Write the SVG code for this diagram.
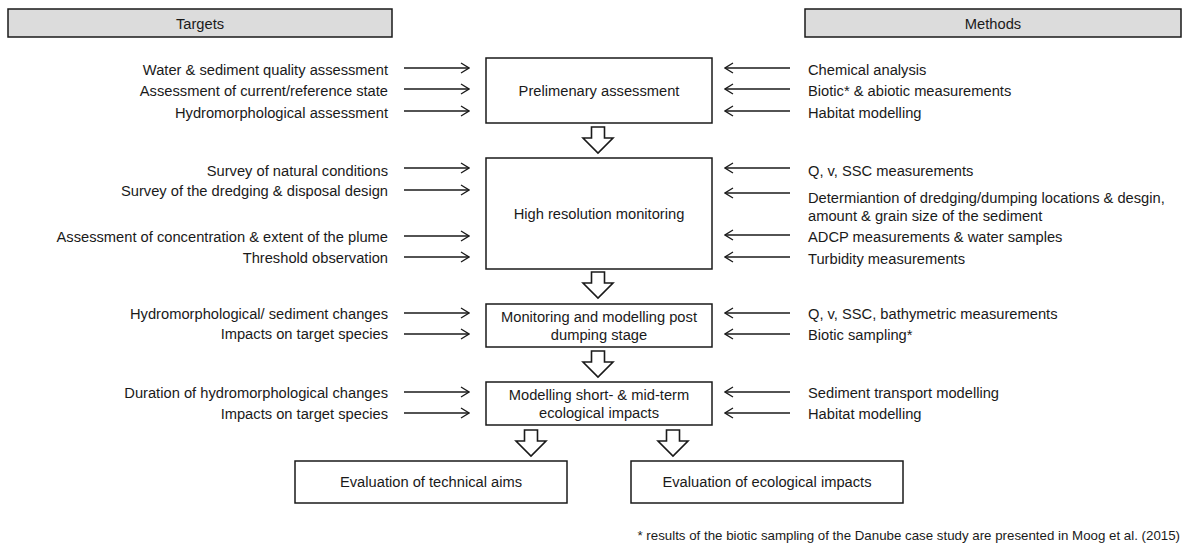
<svg xmlns="http://www.w3.org/2000/svg" width="1191" height="544" viewBox="0 0 1191 544">
<style>
text{font-family:"Liberation Sans",Arial,sans-serif;font-size:14.7px;fill:#1a1a1a}
.l{text-anchor:end}
.c{text-anchor:middle}
.box{fill:#fff;stroke:#1a1a1a;stroke-width:1.5}
.hdr{fill:#dcdcdc;stroke:#1a1a1a;stroke-width:1.5}
.ar{stroke:#1a1a1a;stroke-width:1.3;fill:none}
.big{fill:#fff;stroke:#1a1a1a;stroke-width:1.6;stroke-linejoin:miter}
.fn{font-size:13.3px}
</style>
<defs>
<marker id="h" viewBox="0 0 10 12" refX="9" refY="6" markerWidth="10" markerHeight="12" markerUnits="userSpaceOnUse" orient="auto">
<path d="M1,1 L9,6 L1,11" fill="none" stroke="#1a1a1a" stroke-width="1.3"/>
</marker>
<polygon id="da" class="big" points="-6.5,0 6.5,0 6.5,11 15,11 0,26 -15,11 -6.5,11 -6.5,0"/>
</defs>
<g id="hdr-targets"><rect class="hdr" x="8" y="9" width="384" height="28"/><text class="c" x="200" y="29">Targets</text></g>
<g id="hdr-methods"><rect class="hdr" x="805" y="9" width="376" height="28"/><text class="c" x="993" y="29">Methods</text></g>
<g id="n1"><rect class="box" x="486" y="58" width="226" height="65"/><text class="c" x="599" y="96">Prelimenary assessment</text></g>
<g id="n2"><rect class="box" x="486" y="158" width="226" height="111"/><text class="c" x="599" y="219">High resolution monitoring</text></g>
<g id="n3"><rect class="box" x="486" y="304" width="226" height="43"/><text class="c" x="599" y="322">Monitoring and modelling post</text><text class="c" x="599" y="340">dumping stage</text></g>
<g id="n4"><rect class="box" x="486" y="382" width="226" height="43"/><text class="c" x="599" y="400">Modelling short- &amp; mid-term</text><text class="c" x="599" y="418">ecological impacts</text></g>
<g id="n5"><rect class="box" x="295" y="461" width="272" height="42"/><text class="c" x="431" y="487">Evaluation of technical aims</text></g>
<g id="n6"><rect class="box" x="631" y="461" width="272" height="42"/><text class="c" x="767" y="487">Evaluation of ecological impacts</text></g>
<g id="targets">
<text class="l" x="388" y="75">Water &amp; sediment quality assessment</text>
<text class="l" x="388" y="96">Assessment of current/reference state</text>
<text class="l" x="388" y="118">Hydromorphological assessment</text>
<text class="l" x="388" y="176">Survey of natural conditions</text>
<text class="l" x="388" y="196">Survey of the dredging &amp; disposal design</text>
<text class="l" x="388" y="242">Assessment of concentration &amp; extent of the plume</text>
<text class="l" x="388" y="263">Threshold observation</text>
<text class="l" x="388" y="319">Hydromorphological/ sediment changes</text>
<text class="l" x="388" y="339">Impacts on target species</text>
<text class="l" x="388" y="398">Duration of hydromorphological changes</text>
<text class="l" x="388" y="419">Impacts on target species</text>
</g>
<g id="methods">
<text x="808" y="75">Chemical analysis</text>
<text x="808" y="96">Biotic* &amp; abiotic measurements</text>
<text x="808" y="118">Habitat modelling</text>
<text x="808" y="176">Q, v, SSC measurements</text>
<text x="808" y="203">Determiantion of dredging/dumping locations &amp; desgin,</text>
<text x="808" y="221">amount &amp; grain size of the sediment</text>
<text x="808" y="242">ADCP measurements &amp; water samples</text>
<text x="808" y="264">Turbidity measurements</text>
<text x="808" y="319">Q, v, SSC, bathymetric measurements</text>
<text x="808" y="340">Biotic sampling*</text>
<text x="808" y="398">Sediment transport modelling</text>
<text x="808" y="419">Habitat modelling</text>
</g>
<g id="connectors">
<g class="ar" marker-end="url(#h)">
<line x1="404" y1="68" x2="469" y2="68"/>
<line x1="404" y1="89" x2="469" y2="89"/>
<line x1="404" y1="111" x2="469" y2="111"/>
<line x1="404" y1="168" x2="469" y2="168"/>
<line x1="404" y1="190" x2="469" y2="190"/>
<line x1="404" y1="236" x2="469" y2="236"/>
<line x1="404" y1="257" x2="469" y2="257"/>
<line x1="404" y1="313" x2="469" y2="313"/>
<line x1="404" y1="334" x2="469" y2="334"/>
<line x1="404" y1="392" x2="469" y2="392"/>
<line x1="404" y1="413" x2="469" y2="413"/>
<line x1="790" y1="68" x2="725" y2="68"/>
<line x1="790" y1="89" x2="725" y2="89"/>
<line x1="790" y1="111" x2="725" y2="111"/>
<line x1="790" y1="168" x2="725" y2="168"/>
<line x1="790" y1="193" x2="725" y2="193"/>
<line x1="790" y1="235" x2="725" y2="235"/>
<line x1="790" y1="257" x2="725" y2="257"/>
<line x1="790" y1="313" x2="725" y2="313"/>
<line x1="790" y1="334" x2="725" y2="334"/>
<line x1="790" y1="392" x2="725" y2="392"/>
<line x1="790" y1="413" x2="725" y2="413"/>
</g>
<use href="#da" x="598" y="127"/>
<use href="#da" x="598" y="272"/>
<use href="#da" x="598" y="351"/>
<use href="#da" x="531" y="430"/>
<use href="#da" x="673" y="430"/>
</g>
<g id="footnote"><text class="l fn" x="1180" y="540">* results of the biotic sampling of the Danube case study are presented in Moog et al. (2015)</text></g>
</svg>
